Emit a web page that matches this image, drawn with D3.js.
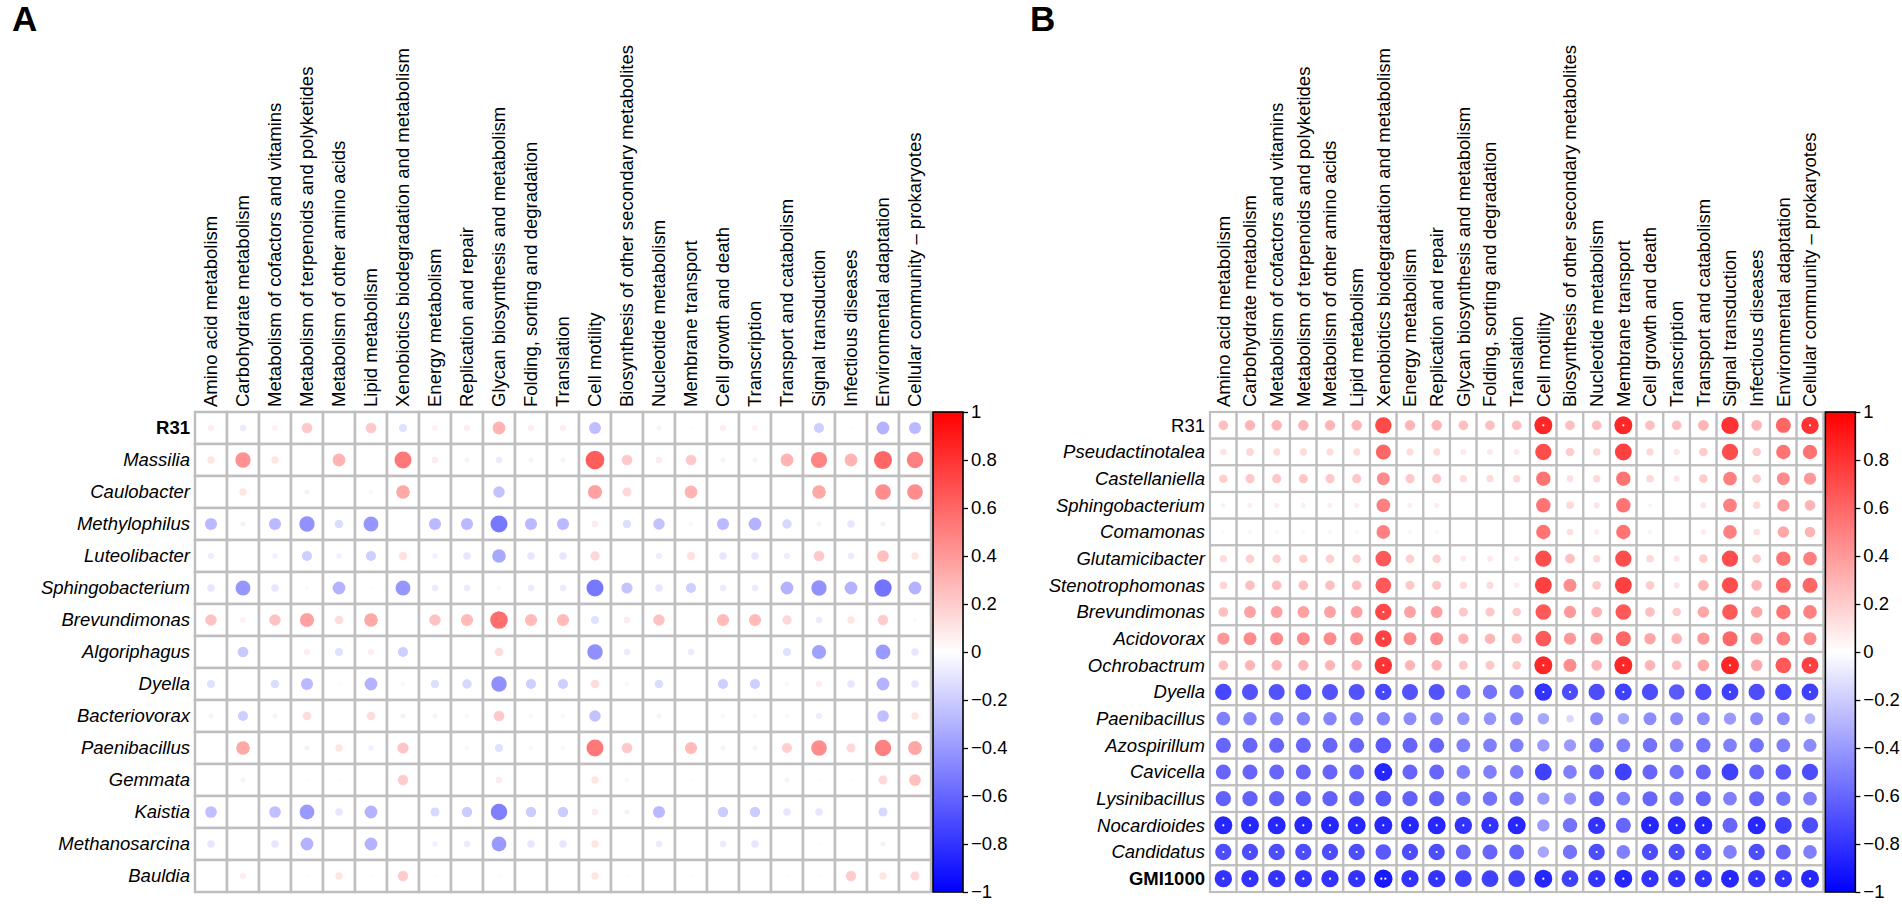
<!DOCTYPE html>
<html>
<head>
<meta charset="utf-8">
<script src="https://cdn.jsdelivr.net/npm/d3@7"></script>
<style>
  body { margin: 0; background: #fff; }
  text { font-family: "Liberation Sans", Arial, sans-serif; fill: #000; }
</style>
</head>
<body>
<svg id="chart" width="1902" height="904"></svg>
<script>
// pathway categories (same for both panels)
const pathways = [
  "Amino acid metabolism", "Carbohydrate metabolism", "Metabolism of cofactors and vitamins",
  "Metabolism of terpenoids and polyketides", "Metabolism of other amino acids", "Lipid metabolism",
  "Xenobiotics biodegradation and metabolism", "Energy metabolism", "Replication and repair",
  "Glycan biosynthesis and metabolism", "Folding, sorting and degradation", "Translation",
  "Cell motility", "Biosynthesis of other secondary metabolites", "Nucleotide metabolism",
  "Membrane transport", "Cell growth and death", "Transcription", "Transport and catabolism",
  "Signal transduction", "Infectious diseases", "Environmental adaptation",
  "Cellular community \u2013 prokaryotes"
];

// panel A
const generaA = ["R31", "Massilia", "Caulobacter", "Methylophilus", "Luteolibacter", "Sphingobacterium",
  "Brevundimonas", "Algoriphagus", "Dyella", "Bacteriovorax", "Paenibacillus", "Gemmata", "Kaistia",
  "Methanosarcina", "Bauldia"];

const corrA = [
  [0.07, -0.08, 0.06, 0.21, 0.01, 0.21, -0.12, 0.06, 0.07, 0.30, 0.07, 0.07, -0.26, 0, 0.05, 0.02, 0.07, 0.06, 0.005, -0.19, 0.02, -0.30, -0.27],
  [0.10, 0.43, 0.10, 0.01, 0.30, 0.01, 0.53, 0.08, 0.05, -0.08, 0.05, 0.05, 0.64, 0.21, 0.08, 0.21, 0.05, 0.05, 0.30, 0.48, 0.30, 0.60, 0.50],
  [0.01, 0.10, 0.01, -0.05, -0.01, -0.04, 0.34, 0.01, 0, -0.24, 0, 0, 0.37, 0.15, 0.01, 0.30, 0, 0, 0.01, 0.34, 0, 0.45, 0.45],
  [-0.27, -0.05, -0.27, -0.43, -0.14, -0.41, 0, -0.27, -0.27, -0.53, -0.27, -0.27, 0.08, -0.13, -0.24, -0.04, -0.27, -0.30, -0.16, 0.05, -0.10, -0.05, -0.01],
  [-0.07, -0.01, -0.06, -0.19, -0.06, -0.19, 0.12, -0.06, -0.10, -0.34, -0.10, -0.10, 0.16, 0.005, -0.07, 0.12, -0.10, -0.10, -0.07, 0.21, -0.08, 0.25, 0.10],
  [-0.10, -0.41, -0.10, 0.03, -0.30, 0.02, -0.41, -0.08, -0.08, 0.04, -0.08, -0.08, -0.53, -0.23, -0.10, -0.19, -0.08, -0.08, -0.30, -0.43, -0.30, -0.55, -0.30],
  [0.24, 0.06, 0.24, 0.37, 0.14, 0.34, 0.01, 0.24, 0.27, 0.57, 0.27, 0.27, -0.12, 0.08, 0.24, 0.01, 0.27, 0.27, 0.16, -0.08, 0.10, 0.20, 0.03],
  [0, -0.21, 0, 0.07, -0.12, 0.07, -0.19, 0, 0, 0.14, 0, 0, -0.44, -0.08, 0, -0.08, 0, 0, -0.12, -0.37, 0, -0.40, -0.10],
  [-0.12, 0, -0.14, -0.27, -0.02, -0.30, 0.04, -0.13, -0.16, -0.44, -0.19, -0.19, 0.14, -0.04, -0.14, 0, -0.19, -0.19, -0.04, 0.07, -0.10, -0.30, -0.10],
  [0.05, -0.19, 0.05, 0.14, 0.01, 0.14, -0.05, 0.05, 0.04, 0.21, 0.04, 0.04, -0.24, 0.005, 0.05, 0, 0.04, 0.04, -0.03, -0.07, 0, -0.25, 0.10],
  [0.01, 0.34, 0.01, -0.05, 0.10, -0.06, 0.23, 0.01, 0.04, -0.12, 0.04, 0.04, 0.53, 0.21, 0.01, 0.27, 0.05, 0.05, 0.19, 0.45, 0.15, 0.50, 0.35],
  [0, 0.05, 0, 0.02, 0.02, 0.01, 0.20, 0.01, 0.01, 0.08, 0.01, 0.01, 0.10, 0.04, 0.01, 0.02, 0.01, 0.01, 0.05, 0.02, 0.02, 0.15, 0.25],
  [-0.25, 0, -0.25, -0.40, -0.10, -0.30, 0.01, -0.15, -0.20, -0.50, -0.20, -0.20, 0.08, -0.05, -0.27, 0, -0.20, -0.20, -0.10, -0.10, 0.01, -0.15, 0],
  [-0.10, 0.01, -0.10, -0.30, 0.01, -0.30, 0.01, -0.06, -0.08, -0.40, -0.10, -0.10, 0.10, 0.01, -0.08, 0, -0.08, -0.10, 0.01, 0.02, 0.01, -0.05, 0],
  [0, 0.07, 0, 0.02, 0.10, 0.02, 0.20, 0.02, 0.01, -0.02, 0.01, 0.01, 0.10, 0.02, 0.01, 0.02, 0.01, 0.01, 0.02, 0.02, 0.20, 0.10, 0.15]
];

// panel B
const generaB = ["R31", "Pseudactinotalea", "Castellaniella", "Sphingobacterium", "Comamonas", "Glutamicibacter",
  "Stenotrophomonas", "Brevundimonas", "Acidovorax", "Ochrobactrum", "Dyella", "Paenibacillus", "Azospirillum",
  "Cavicella", "Lysinibacillus", "Nocardioides", "Candidatus", "GMI1000"];

const corrB = [
  [0.25, 0.29, 0.29, 0.29, 0.29, 0.29, 0.71, 0.29, 0.29, 0.25, 0.25, 0.25, 0.85, 0.25, 0.25, 0.85, 0.25, 0.25, 0.30, 0.80, 0.30, 0.60, 0.80],
  [0.11, 0.16, 0.14, 0.14, 0.14, 0.14, 0.60, 0.14, 0.14, 0.09, 0.09, 0.09, 0.70, 0.20, 0.15, 0.75, 0.15, 0.10, 0.20, 0.70, 0.20, 0.55, 0.55],
  [0.19, 0.22, 0.22, 0.22, 0.22, 0.22, 0.45, 0.22, 0.22, 0.14, 0.14, 0.15, 0.55, 0.12, 0.15, 0.55, 0.15, 0.10, 0.20, 0.50, 0.20, 0.45, 0.40],
  [0.06, 0.07, 0.07, 0.07, 0.07, 0.07, 0.50, 0.07, 0.07, 0, 0, 0, 0.55, 0.15, 0.10, 0.55, 0.05, 0, 0.10, 0.50, 0.15, 0.40, 0.30],
  [0.03, 0.04, 0.04, 0.04, 0.04, 0.04, 0.50, 0.04, 0.04, 0, 0, 0, 0.55, 0.12, 0.08, 0.55, 0.05, 0, 0.08, 0.50, 0.12, 0.35, 0.30],
  [0.14, 0.19, 0.19, 0.19, 0.19, 0.19, 0.65, 0.19, 0.19, 0.09, 0.09, 0.08, 0.70, 0.25, 0.15, 0.70, 0.15, 0.10, 0.20, 0.70, 0.20, 0.55, 0.50],
  [0.16, 0.25, 0.25, 0.25, 0.25, 0.25, 0.65, 0.22, 0.22, 0.14, 0.14, 0.08, 0.75, 0.45, 0.20, 0.75, 0.20, 0.10, 0.30, 0.70, 0.30, 0.60, 0.60],
  [0.25, 0.37, 0.37, 0.37, 0.37, 0.37, 0.72, 0.37, 0.37, 0.22, 0.22, 0.20, 0.65, 0.40, 0.30, 0.65, 0.25, 0.20, 0.35, 0.65, 0.35, 0.55, 0.50],
  [0.40, 0.45, 0.45, 0.45, 0.45, 0.45, 0.75, 0.45, 0.45, 0.29, 0.29, 0.27, 0.65, 0.40, 0.40, 0.60, 0.35, 0.30, 0.40, 0.60, 0.40, 0.50, 0.45],
  [0.25, 0.29, 0.29, 0.29, 0.29, 0.29, 0.80, 0.29, 0.29, 0.22, 0.22, 0.20, 0.85, 0.45, 0.30, 0.85, 0.30, 0.25, 0.35, 0.85, 0.35, 0.65, 0.75],
  [-0.72, -0.68, -0.68, -0.68, -0.68, -0.68, -0.72, -0.68, -0.68, -0.55, -0.55, -0.55, -0.80, -0.70, -0.70, -0.75, -0.70, -0.65, -0.70, -0.75, -0.70, -0.72, -0.75],
  [-0.50, -0.48, -0.48, -0.48, -0.48, -0.48, -0.48, -0.45, -0.45, -0.42, -0.42, -0.45, -0.35, -0.15, -0.45, -0.35, -0.45, -0.45, -0.45, -0.40, -0.45, -0.45, -0.30],
  [-0.60, -0.60, -0.60, -0.60, -0.60, -0.60, -0.65, -0.60, -0.60, -0.50, -0.50, -0.50, -0.40, -0.40, -0.55, -0.50, -0.55, -0.50, -0.55, -0.50, -0.55, -0.50, -0.45],
  [-0.60, -0.60, -0.60, -0.60, -0.60, -0.60, -0.85, -0.60, -0.60, -0.50, -0.50, -0.50, -0.75, -0.50, -0.60, -0.75, -0.60, -0.55, -0.60, -0.75, -0.60, -0.65, -0.70],
  [-0.62, -0.62, -0.62, -0.62, -0.62, -0.62, -0.65, -0.62, -0.62, -0.55, -0.55, -0.55, -0.40, -0.40, -0.60, -0.50, -0.60, -0.55, -0.60, -0.50, -0.60, -0.55, -0.50],
  [-0.85, -0.85, -0.85, -0.85, -0.85, -0.85, -0.85, -0.85, -0.85, -0.80, -0.80, -0.85, -0.40, -0.55, -0.80, -0.60, -0.85, -0.85, -0.85, -0.60, -0.85, -0.75, -0.70],
  [-0.70, -0.70, -0.70, -0.70, -0.70, -0.70, -0.65, -0.70, -0.70, -0.60, -0.60, -0.60, -0.35, -0.55, -0.70, -0.50, -0.70, -0.70, -0.70, -0.50, -0.70, -0.60, -0.50],
  [-0.80, -0.80, -0.80, -0.80, -0.80, -0.80, -0.90, -0.80, -0.80, -0.75, -0.75, -0.75, -0.85, -0.75, -0.80, -0.85, -0.80, -0.80, -0.80, -0.85, -0.80, -0.80, -0.85]
];

// significance marks in panel B (number of white dots per cell)
const sigB = [
  "00000000000010010000001",
  "00000000000000000000000",
  "00000000000000000000000",
  "00000000000000000000000",
  "00000000000000000000000",
  "00000000000000000000000",
  "00000000000000000000000",
  "00000010000000000000000",
  "00000010000000000000000",
  "00000010000010010001001",
  "00000010000011010001001",
  "00000000000000000000000",
  "00000000000000000000000",
  "00000010000000000000000",
  "00000000000000000000000",
  "11111111111100101110100",
  "11111101100000101110100",
  "11111121100011111111111"
];

const legendTicks = [1, 0.8, 0.6, 0.4, 0.2, 0, -0.2, -0.4, -0.6, -0.8, -1];
const legendLabels = ["1", "0.8", "0.6", "0.4", "0.2", "0", "\u22120.2", "\u22120.4", "\u22120.6", "\u22120.8", "\u22121"];

const svg = d3.select("#chart");
const color = d3.scaleLinear().domain([-1, 0, 1]).range(["#0000ff", "#ffffff", "#ff0000"]);

const drawPanel = (cfg) => {
  const g = svg.append("g");
  const w = cfg.cell * pathways.length, h = cfg.cell * cfg.rows.length;

  const x = d3.scaleBand().domain(pathways).range([cfg.left, cfg.left + w]);
  const y = d3.scaleBand().domain(cfg.rows).range([cfg.top, cfg.top + h]);
  const rad = d3.scaleSqrt().domain([0, 1]).range([0, 0.365 * cfg.cell]);

  // panel letter
  g.append("text").attr("x", cfg.letterX).attr("y", 31)
    .style("font-size", "35px").style("font-weight", "bold").text(cfg.letter);

  // cells
  const cells = [];
  cfg.rows.forEach((r, i) => pathways.forEach((p, j) => {
    cells.push({ row: r, col: p, v: cfg.values[i][j], s: cfg.sig ? +cfg.sig[i][j] : 0 });
  }));

  g.selectAll("rect.cell").data(cells).enter().append("rect")
    .attr("class", "cell")
    .attr("x", d => x(d.col)).attr("y", d => y(d.row))
    .attr("width", x.bandwidth()).attr("height", y.bandwidth())
    .attr("fill", "#fff").attr("stroke", "#bebebe").attr("stroke-width", cfg.gridW);

  g.selectAll("circle.corr").data(cells).enter().append("circle")
    .attr("class", "corr")
    .attr("cx", d => x(d.col) + x.bandwidth() / 2)
    .attr("cy", d => y(d.row) + y.bandwidth() / 2)
    .attr("r", d => rad(Math.abs(d.v)))
    .attr("fill", d => color(d.v));

  // significance dots
  const dots = [];
  cells.forEach(d => {
    for (let k = 0; k < d.s; k++) dots.push({ d: d, off: d.s === 1 ? 0 : (k === 0 ? -2 : 2) });
  });
  g.selectAll("circle.sig").data(dots).enter().append("circle")
    .attr("cx", e => x(e.d.col) + x.bandwidth() / 2 + e.off)
    .attr("cy", e => y(e.d.row) + y.bandwidth() / 2)
    .attr("r", 1.1).attr("fill", "#fff");

  // column labels
  g.selectAll("text.col").data(pathways).enter().append("text")
    .attr("transform", d => `translate(${x(d) + x.bandwidth() / 2},${cfg.top - 5}) rotate(-90)`)
    .attr("dy", "0.35em")
    .style("font-size", "18.5px")
    .text(d => d);

  // row labels
  g.selectAll("text.row").data(cfg.rows).enter().append("text")
    .attr("x", cfg.left - 5)
    .attr("y", d => y(d) + y.bandwidth() / 2)
    .attr("dy", "0.35em")
    .attr("text-anchor", "end")
    .style("font-size", "18.5px")
    .style("font-style", d => cfg.plain.includes(d) ? "normal" : "italic")
    .style("font-weight", d => cfg.bold.includes(d) ? "bold" : "normal")
    .text(d => d);

  // colour bar
  const cbX = cfg.left + w + 2, cbW = 30;
  const gid = "grad" + cfg.letter;
  const grad = svg.append("defs").append("linearGradient").attr("id", gid)
    .attr("x1", 0).attr("y1", 0).attr("x2", 0).attr("y2", 1);
  d3.range(0, 1.0001, 0.05).forEach(t => {
    grad.append("stop").attr("offset", t).attr("stop-color", color(1 - 2 * t));
  });
  g.append("rect").attr("x", cbX).attr("y", cfg.top).attr("width", cbW).attr("height", h)
    .attr("fill", `url(#${gid})`).attr("stroke", "#000").attr("stroke-width", 1.6);

  const cy = d3.scaleLinear().domain([1, -1]).range([cfg.top, cfg.top + h]);
  const ax = g.append("g").attr("transform", `translate(${cbX + cbW},0)`)
    .call(d3.axisRight(cy).tickValues(legendTicks).tickFormat((d, i) => legendLabels[i]).tickSize(5).tickPadding(3));
  ax.select(".domain").remove();
  ax.selectAll("line").attr("stroke", "#000").attr("stroke-width", 1.3);
  ax.selectAll("text").style("font-size", "18.5px").style("font-family", "'Liberation Sans', Arial, sans-serif").attr("fill", "#000");
};

drawPanel({ letter: "A", letterX: 12, rows: generaA, values: corrA, sig: null,
  left: 195, top: 412, cell: 32, gridW: 2.5, plain: ["R31"], bold: ["R31"] });

drawPanel({ letter: "B", letterX: 1030, rows: generaB, values: corrB, sig: sigB,
  left: 1210, top: 412, cell: 480 / 18, gridW: 2.2, plain: ["R31", "GMI1000"], bold: ["GMI1000"] });
</script>
</body>
</html>
